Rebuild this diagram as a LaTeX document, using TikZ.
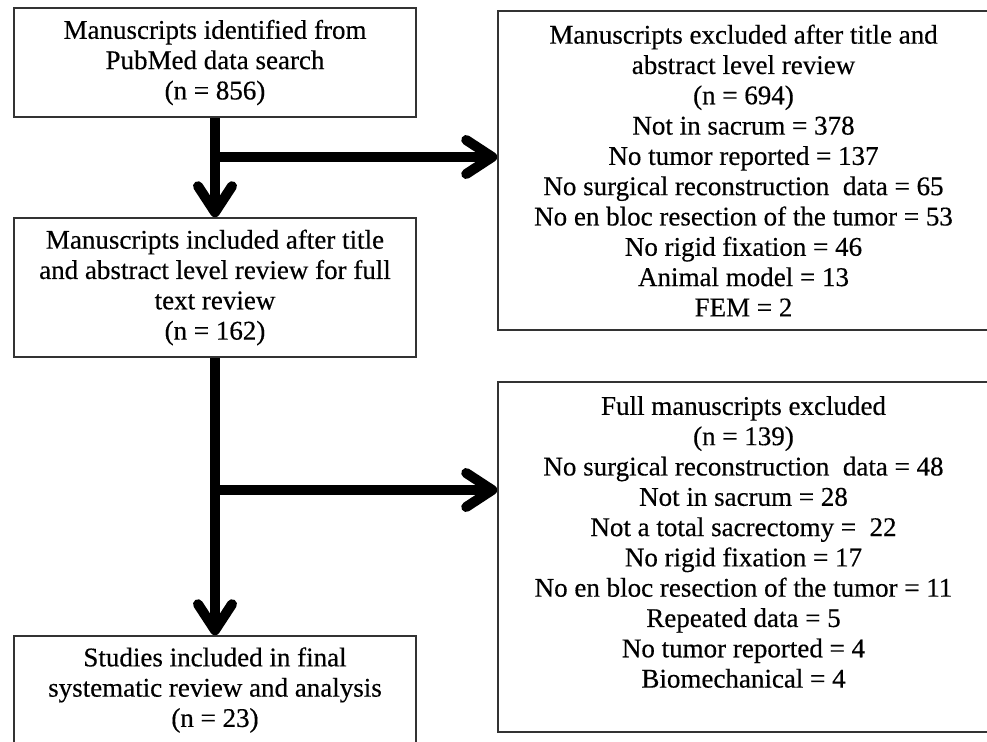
\documentclass[tikz,border=0pt]{standalone}
\usepackage{fontspec}
\setmainfont[FakeBold=0.4]{Liberation Serif}
\usetikzlibrary{arrows.meta}
\begin{document}
\begin{tikzpicture}[x=1pt,y=-1pt,
  box/.style={draw=black!80, line width=1.6pt, inner sep=0pt, align=center,
    font=\fontsize{27}{30.3}\selectfont},
  flow/.style={line width=10pt, -{Straight Barb[length=26pt,width=34pt,round]}}]
\useasboundingbox (0,0) rectangle (987,741);
\clip (0,0) rectangle (987,741);
\node[box, minimum width=402pt, minimum height=109pt] (b1) at (215,62.5)
  {Manuscripts identified from\\PubMed data search\\(n = 856)};
\node[box, minimum width=402pt, minimum height=139pt] (b2) at (215,287.5)
  {Manuscripts included after title\\and abstract level review for full\\text review\\(n = 162)};
\node[box, minimum width=402pt, minimum height=108pt] (b3) at (215,690)
  {Studies included in final\\systematic review and analysis\\(n = 23)};
\node[box, minimum width=491pt, minimum height=319pt] (r1) at (743.5,170.5)
  {Manuscripts excluded after title and\\abstract level review\\(n = 694)\\Not in sacrum = 378\\No tumor reported = 137\\No surgical reconstruction\ \ data = 65\\No en bloc resection of the tumor = 53\\No rigid fixation = 46\\Animal model = 13\\FEM = 2};
\node[box, minimum width=491pt, minimum height=350pt] (r2) at (743.5,557)
  {Full manuscripts excluded\\(n = 139)\\No surgical reconstruction\ \ data = 48\\Not in sacrum = 28\\Not a total sacrectomy = \ 22\\No rigid fixation = 17\\No en bloc resection of the tumor = 11\\Repeated data = 5\\No tumor reported = 4\\Biomechanical = 4\\\mbox{}};
\coordinate (j1) at (215,157);
\coordinate (j2) at (215,490);
\draw[flow] (b1.south) -- (b2.north);
\draw[flow] (b2.south) -- (b3.north);
\draw[flow] (j1) -- (j1 -| r1.west);
\draw[flow] (j2) -- (j2 -| r2.west);
\end{tikzpicture}
\end{document}
